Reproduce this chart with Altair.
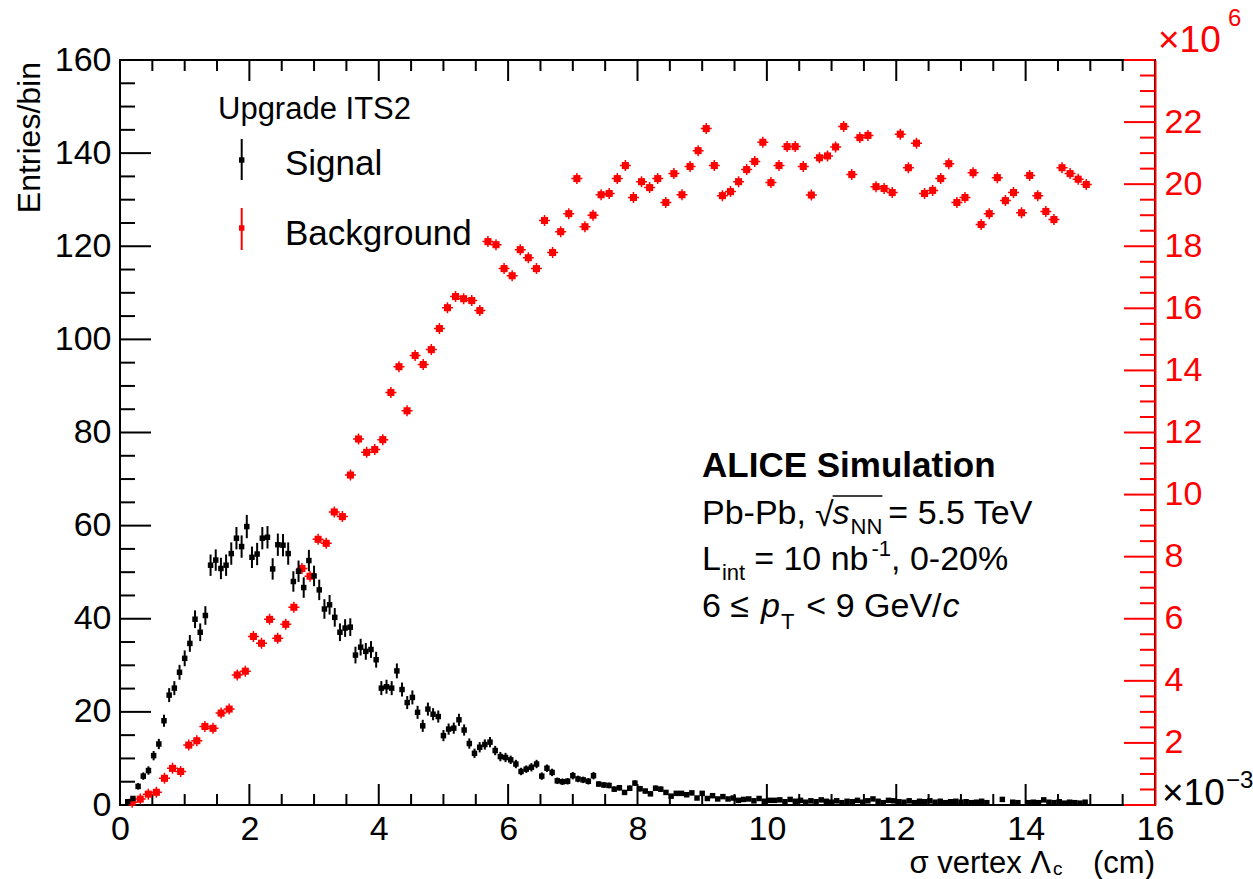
import altair as alt
import pandas as pd

FONT = "Liberation Sans"

# ---------------- data ----------------
SIG_FIRST_CENTER = 0.12   # bin centre of first signal bin (x10^-3 cm)
SIG_BIN_WIDTH = 0.08
signal = [
    0.7, 1.4, 4.0, 6.2, 7.4, 10.6, 13.1, 18.1, 23.6, 25.1,
    28.5, 31.5, 34.7, 39.9, 37.1, 40.7, 51.5, 52.6, 50.8, 51.5,
    54.0, 57.3, 55.5, 59.8, 53.2, 53.9, 57.3, 57.5, 50.7, 55.9,
    55.8, 54.0, 48.0, 50.2, 46.7, 52.5, 49.2, 46.2, 42.1, 43.0,
    40.3, 37.1, 38.0, 38.2, 32.2, 33.9, 33.0, 33.4, 31.2, 25.1,
    25.4, 25.1, 28.8, 24.8, 22.0, 23.1, 19.9, 17.0, 20.6, 19.5,
    19.0, 14.9, 16.3, 16.5, 18.3, 16.1, 13.2, 11.1, 12.4, 13.0,
    13.5, 11.7, 10.4, 10.2, 9.7, 8.8, 7.2, 7.7, 8.1, 8.8,
    6.2, 7.9, 7.0, 5.2, 5.0, 5.1, 6.3, 5.6, 5.4, 5.1,
    6.3, 4.5, 4.3, 4.2, 3.4, 3.7, 2.7, 3.6, 4.7, 3.5,
    3.0, 2.4, 3.6, 3.4, 2.7, 1.9, 2.5, 2.5, 2.2, 2.6,
    1.5, 2.5, 1.4, 2.0, 1.3, 1.8, 1.3, 1.5, 1.0, 1.2,
    1.3, 0.9, 1.4, 0.8, 1.0, 1.0, 1.1, 0.7, 1.2, 0.8,
    1.0, 0.6, 0.9, 0.7, 1.1, 0.8, 0.6, 0.9, 0.5, 0.8,
    0.7, 1.0, 0.6, 0.9, 1.3, 0.8, 0.5, 1.0, 0.9, 0.7,
    0.6, 0.9, 0.5, 0.8, 0.7, 0.9, 0.6, 0.8, 0.5, 0.7,
    0.8, 0.6, 0.7, 0.5, 0.6, 0.8, 0.5, 0.0, 0.0, 1.2,
    0.0, 0.6, 0.5, 0.0, 0.5, 0.6, 0.5, 1.1, 0.6, 0.5,
    0.7, 0.4, 0.6, 0.5, 0.4, 0.6,
]
signal_err = [
    0.4, 0.5, 0.7, 0.8, 0.9, 1.0, 1.1, 1.3, 1.5, 1.5,
    1.6, 1.7, 1.8, 1.9, 1.9, 2.0, 2.3, 2.3, 2.3, 2.3,
    2.4, 2.4, 2.4, 2.5, 2.3, 2.4, 2.4, 2.4, 2.3, 2.4,
    2.4, 2.4, 2.2, 2.3, 2.2, 2.3, 2.2, 2.2, 2.1, 2.1,
    2.0, 1.9, 1.9, 1.9, 1.8, 1.8, 1.8, 1.8, 1.7, 1.5,
    1.5, 1.5, 1.6, 1.5, 1.4, 1.5, 1.4, 1.3, 1.4, 1.3,
    1.3, 1.2, 1.2, 1.2, 1.3, 1.2, 1.1, 1.0, 1.1, 1.1,
    1.1, 1.0, 1.0, 1.0, 0.9, 0.9, 0.8, 0.8, 0.9, 0.9,
    0.8, 0.8, 0.8, 0.7, 0.7, 0.7, 0.8, 0.7, 0.7, 0.7,
    0.8, 0.6, 0.6, 0.6, 0.6, 0.6, 0.5, 0.6, 0.6, 0.6,
    0.5, 0.5, 0.6, 0.6, 0.5, 0.4, 0.5, 0.5, 0.5, 0.5,
    0.4, 0.5, 0.4, 0.4, 0.4, 0.4, 0.4, 0.4, 0.3, 0.4,
    0.4, 0.3, 0.4, 0.3, 0.3, 0.3, 0.3, 0.3, 0.4, 0.3,
    0.3, 0.3, 0.3, 0.3, 0.3, 0.3, 0.3, 0.3, 0.3, 0.3,
    0.3, 0.3, 0.3, 0.3, 0.4, 0.3, 0.3, 0.3, 0.3, 0.3,
    0.3, 0.3, 0.3, 0.3, 0.3, 0.3, 0.3, 0.3, 0.3, 0.3,
    0.3, 0.3, 0.3, 0.3, 0.3, 0.3, 0.3, 0.0, 0.0, 0.4,
    0.0, 0.3, 0.3, 0.0, 0.3, 0.3, 0.3, 0.4, 0.3, 0.3,
    0.3, 0.2, 0.3, 0.3, 0.2, 0.3,
]

BKG_FIRST_CENTER = 0.1875
BKG_BIN_WIDTH = 0.125
background = [  # x10^6 entries/bin (right axis)
    0.09, 0.19, 0.35, 0.41, 0.86, 1.18, 1.08, 1.93, 2.07, 2.53,
    2.47, 2.96, 3.09, 4.19, 4.31, 5.43, 5.21, 5.98, 5.37, 5.82,
    6.37, 7.62, 7.37, 8.56, 8.43, 9.44, 9.29, 10.63, 11.79, 11.36,
    11.45, 11.77, 13.29, 14.12, 12.70, 14.48, 14.19, 14.67, 15.35, 16.02,
    16.38, 16.31, 16.25, 15.93, 18.15, 18.05, 17.28, 17.05, 17.89, 17.63,
    17.28, 18.83, 17.80, 18.47, 19.05, 20.18, 18.63, 19.00, 19.66, 19.70,
    20.18, 20.60, 19.57, 20.08, 19.89, 20.18, 19.41, 20.34, 19.66, 20.57,
    21.08, 21.79, 20.60, 19.63, 19.76, 20.08, 20.47, 20.73, 21.35, 20.05,
    20.60, 21.21, 21.21, 20.57, 19.65, 20.85, 20.91, 21.20, 21.86, 20.31,
    21.50, 21.57, 19.92, 19.86, 19.73, 21.61, 20.53, 21.32, 19.70, 19.80,
    20.18, 20.66, 19.41, 19.57, 20.37, 18.70, 19.05, 20.21, 19.47, 19.73,
    19.08, 20.28, 19.63, 19.12, 18.86, 20.53, 20.34, 20.16, 19.99,
]

x_major = [0, 2, 4, 6, 8, 10, 12, 14, 16]
x_minor = [v / 2 for v in range(0, 33) if v % 4 != 0]
yl_major = [0, 20, 40, 60, 80, 100, 120, 140, 160]
yl_minor = [v for v in range(0, 161, 5) if v % 20 != 0]
yr_labels = [2, 4, 6, 8, 10, 12, 14, 16, 18, 20, 22]
yr_major = [0, 2, 4, 6, 8, 10, 12, 14, 16, 18, 20, 22, 24]
yr_minor = [v / 2 for v in range(0, 49) if v % 4 != 0]

# ---------------- tables ----------------
sig_df = pd.DataFrame({
    "x": [SIG_FIRST_CENTER + SIG_BIN_WIDTH * i for i in range(len(signal))],
    "v": signal,
    "e": signal_err,
})
sig_df = sig_df[sig_df["v"] > 0].copy()
sig_df["lo"] = sig_df["v"] - sig_df["e"]
sig_df["hi"] = sig_df["v"] + sig_df["e"]

bkg_df = pd.DataFrame({
    "x": [BKG_FIRST_CENTER + BKG_BIN_WIDTH * i for i in range(len(background))],
    "v": background,
})

W, H = 1035, 745
xs = alt.Scale(domain=[0, 16], nice=False, zero=False)
yl = alt.Scale(domain=[0, 160], nice=False, zero=False)
yr = alt.Scale(domain=[0, 24], nice=False, zero=False)

x_axis = alt.Axis(values=x_major, ticks=False, domain=False, grid=False,
                  labelFont=FONT, labelFontSize=34, labelColor="black",
                  labelPadding=7, labelFlush=False, labelOverlap=False,
                  title=None, orient="bottom")
yl_axis = alt.Axis(values=yl_major, ticks=False, domain=False, grid=False,
                   labelFont=FONT, labelFontSize=34, labelColor="black",
                   labelPadding=9, labelFlush=False, labelOverlap=False,
                   title=None, orient="left")
yr_axis = alt.Axis(values=yr_labels, ticks=False, domain=True, domainColor="red",
                   domainWidth=2, grid=False, labelFont=FONT, labelFontSize=34,
                   labelColor="red", labelPadding=9, labelFlush=False,
                   labelOverlap=False, title=None, orient="right", zindex=1)


def X(field):
    return alt.X(field, scale=xs, axis=x_axis)


DUMMY = pd.DataFrame({"d": [0]})

# Arial / Liberation Sans advance widths (per 1000 em) for chaining text pieces
ADV = {" ": 278, ",": 278, ".": 278, "-": 333, "=": 584, "<": 584, "\u2264": 549,
       "%": 889, "/": 278, "\u221a": 549, "0": 556, "1": 556, "2": 556, "5": 556,
       "6": 556, "9": 556, "P": 667, "b": 556, "L": 556, "T": 611, "V": 667,
       "G": 778, "e": 556, "n": 556, "i": 222, "t": 278, "s": 500, "N": 722,
       "c": 500, "p": 556, "\u2212": 584, "\u00d7": 584}


def tw(text, size):
    return sum(ADV.get(ch, 556) for ch in text) * size / 1000.0


def txt(text, x, y, size, color="black", align="left", style="normal",
        weight="normal", angle=0):
    return alt.Chart(DUMMY).mark_text(
        text=text, font=FONT, fontSize=size, color=color, align=align,
        baseline="alphabetic", fontStyle=style, fontWeight=weight, angle=angle,
    ).encode(x=alt.value(x), y=alt.value(y))


def prule(x, x2, y, y2, color="black", width=2):
    return alt.Chart(DUMMY).mark_rule(color=color, strokeWidth=width).encode(
        x=alt.value(x), x2=alt.value(x2), y=alt.value(y), y2=alt.value(y2))


def hticks(values, scale, x0, x1, color):
    return alt.Chart(pd.DataFrame({"v": values})).mark_rule(
        color=color, strokeWidth=2).encode(
        y=alt.Y("v:Q", scale=scale, axis=None), x=alt.value(x0), x2=alt.value(x1))


def vticks(values, y0, y1):
    return alt.Chart(pd.DataFrame({"v": values})).mark_rule(
        color="black", strokeWidth=2).encode(
        x=X("v:Q"), y=alt.value(y0), y2=alt.value(y1))


ticks = [
    hticks(yl_major, yl, 0, 31, "black"),
    hticks(yl_minor, yl, 0, 15, "black"),
    hticks(yr_major, yr, W - 31, W, "red"),
    hticks(yr_minor, yr, W - 15, W, "red"),
    vticks(x_major, H, H - 21),
    vticks(x_minor, H, H - 11),
    vticks(x_major, 0, 21),
    vticks(x_minor, 0, 11),
]

bkg_cross = alt.Chart(bkg_df).mark_point(
    shape="M-1,0L1,0M0,-1L0,1", size=121, filled=False, color="red",
    strokeWidth=1.5, opacity=1,
).encode(x=X("x:Q"), y=alt.Y("v:Q", scale=yr, axis=None))
bkg_pts = alt.Chart(bkg_df).mark_square(size=50, color="red", opacity=1).encode(
    x=X("x:Q"), y=alt.Y("v:Q", scale=yr, axis=yr_axis))

sig_err = alt.Chart(sig_df).mark_rule(color="black", strokeWidth=2).encode(
    x=X("x:Q"),
    y=alt.Y("lo:Q", scale=yl, axis=None),
    y2="hi:Q",
)
sig_pts = alt.Chart(sig_df).mark_square(size=30, color="black", opacity=1).encode(
    x=X("x:Q"),
    y=alt.Y("v:Q", scale=yl, axis=yl_axis),
)

# legend (plot-area coordinates = page - (120, 60))
legend = [
    txt("Upgrade ITS2", 98, 59, 31),
    prule(121.7, 121.7, 79, 120, "black", 2),
    alt.Chart(DUMMY).mark_square(size=30, color="black", opacity=1).encode(
        x=alt.value(121.7), y=alt.value(100)),
    txt("Signal", 165, 115, 35),
    prule(121.7, 121.7, 148, 190, "red", 2),
    alt.Chart(DUMMY).mark_square(size=30, color="red", opacity=1).encode(
        x=alt.value(121.7), y=alt.value(168)),
    txt("Background", 165, 185, 35),
]

# annotation block
FS, SS = 34, 22
X0 = 582
annot = [txt("ALICE Simulation", X0, 417, 35, weight="bold")]
# line 2: Pb-Pb, sqrt(s_NN) = 5.5 TeV
y2b = 464
xa = X0
annot.append(txt("Pb-Pb,", xa, y2b, FS)); xa += tw("Pb-Pb,", FS) + 9
annot.append(txt("\u221a", xa, y2b + 2, FS)); xa += tw("\u221a", FS) - 1
ov0 = xa
annot.append(txt("s", xa, y2b, FS, style="italic")); xa += tw("s", FS) + 1
annot.append(txt("NN", xa, y2b + 10, SS)); xa += tw("NN", SS)
annot.append(prule(ov0, xa, 436, 436, "black", 1.5)); xa += 6
annot.append(txt("= 5.5 TeV", xa, y2b, FS))
# line 3: L_int = 10 nb^-1, 0-20%
y3b = 510
xa = X0
annot.append(txt("L", xa, y3b, FS)); xa += tw("L", FS) + 1
annot.append(txt("int", xa, y3b + 10, SS)); xa += tw("int", SS) + 9
annot.append(txt("= 10 nb", xa, y3b, FS)); xa += tw("= 10 nb", FS) + 3
annot.append(txt("-1", xa, y3b - 14, SS)); xa += tw("-1", SS)
annot.append(txt(", 0-20%", xa, y3b, FS))
# line 4: 6 <= p_T < 9 GeV/c
y4b = 557
xa = X0
annot.append(txt("6 \u2264", xa, y4b, FS)); xa += tw("6 \u2264", FS) + 12
annot.append(txt("p", xa, y4b, FS, style="italic")); xa += tw("p", FS) + 1
annot.append(txt("T", xa, y4b + 12, SS)); xa += tw("T", SS) + 12
annot.append(txt("< 9 GeV/", xa, y4b, FS)); xa += tw("< 9 GeV/", FS) + 1
annot.append(txt("c", xa, y4b, FS, style="italic"))

titles = [
    txt("Entries/bin", -80, 2, 32, align="right", angle=270),
    txt("(cm)", 1035, 813, 31, align="right"),
    txt("c", 933, 815, 19),
    txt("\u03c3 vertex \u039b", 931, 813, 31, align="right"),
    txt("\u00d710", 1038, -8, 37, color="red"),
    txt("6", 1108, -34, 24, color="red"),
    txt("\u00d710", 1042, 745, 37),
    txt("\u22123", 1106, 728, 24),
]

chart = alt.layer(
    *ticks, bkg_cross, bkg_pts, sig_err, sig_pts, *legend, *annot, *titles
).resolve_scale(y="independent").properties(
    width=W, height=H,
    padding={"left": 120, "top": 60, "right": 98, "bottom": 74},
    autosize=alt.AutoSizeParams(type="none"),
    background="white",
).configure_view(stroke="black", strokeWidth=2)

chart.save("out.html", embed_options={"renderer": "svg", "actions": False})
